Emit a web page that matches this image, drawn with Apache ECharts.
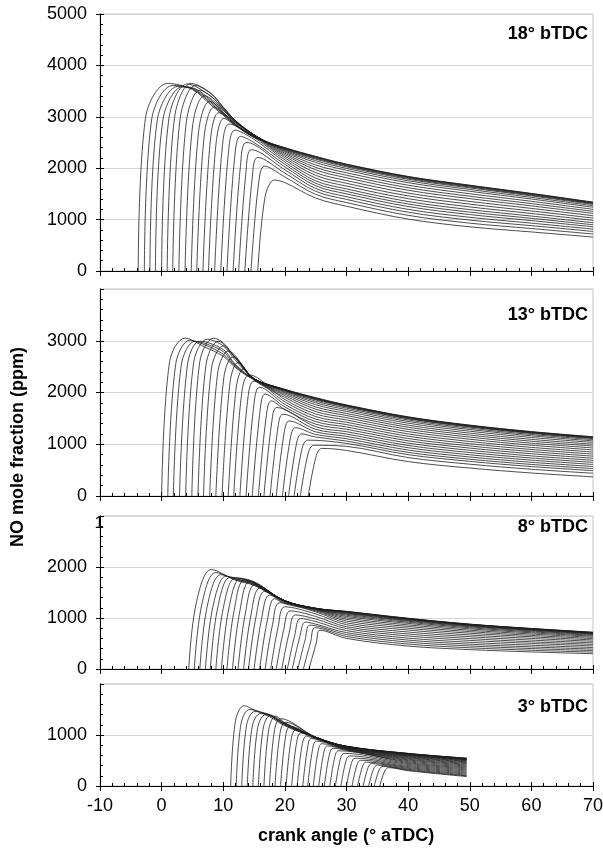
<!DOCTYPE html>
<html><head><meta charset="utf-8">
<script src="https://cdn.jsdelivr.net/npm/echarts@6/dist/echarts.min.js"></script>
<style>html,body{margin:0;padding:0;background:#fff}#c{width:603px;height:854px}</style>
</head><body><div id="c"></div><script>
// ---------- DATA ----------
const PANEL_LABELS = ['18° bTDC', '13° bTDC', '8° bTDC', '3° bTDC'];
const Y_MAX = [5000, 4000, 3000, 2000];
const X_MIN = -10, X_MAX = 70;

// Panel 1 (18° bTDC)
const P1_START = [-3.8,-2.8,-1.9,-1.0,0.0,0.9,1.8,2.8,3.8,4.8,5.7,6.7,7.6,8.6,9.6,10.6,11.6,12.5,13.5,14.5,15.6];
const P1_RISE = 1.2;
const P1_KNEE = [2990,2960,2940,2940,2980,2990,2960,2890,2800,2710,2620,2530,2440,2350,2250,2150,2050,1940,1810,1670,1450];
const P1_PEAK_X = [1.0,1.8,2.6,3.3,4.2,4.8,5.5,6.2,7.0,7.8,8.5,9.3,10.1,11.0,11.9,12.8,13.8,14.6,15.6,16.7,18.3];
const P1_PEAK = [3650,3610,3590,3580,3640,3650,3610,3520,3410,3300,3190,3080,2970,2860,2740,2620,2500,2360,2210,2040,1770];
const P1_TAIL_X = [5,8,10,12,15,20,25,30,40,50,60,70];
const P1_TAIL = [
 [3530,3230,3030,2830,2600,2400,2230,2080,1840,1670,1510,1340],
 [3545,3260,3050,2840,2605,2395,2224,2074,1834,1664,1505,1335],
 [3555,3290,3070,2850,2610,2390,2218,2068,1828,1658,1499,1330],
 [3565,3320,3090,2860,2615,2383,2207,2056,1816,1647,1488,1320],
 [null,3400,3140,2890,2630,2375,2194,2044,1803,1634,1477,1310],
 [null,3460,3180,2915,2640,2365,2177,2026,1785,1617,1461,1295],
 [null,3450,3190,2925,2645,2352,2147,1996,1755,1587,1433,1270],
 [null,3400,3170,2925,2648,2336,2111,1960,1718,1551,1400,1240],
 [null,null,3140,2920,2650,2316,2063,1911,1669,1503,1356,1200],
 [null,null,3120,2910,2650,2292,2015,1863,1620,1455,1311,1160],
 [null,null,3070,2900,2648,2265,1968,1814,1571,1408,1267,1120],
 [null,null,null,2880,2640,2234,1914,1760,1516,1354,1218,1075],
 [null,null,null,2830,2625,2200,1861,1706,1462,1301,1168,1030],
 [null,null,null,null,2600,2162,1807,1652,1407,1247,1119,985],
 [null,null,null,null,2560,2120,1754,1598,1352,1194,1069,940],
 [null,null,null,null,2500,2075,1706,1549,1303,1146,1025,900],
 [null,null,null,null,null,2025,1658,1501,1254,1098,981,860],
 [null,null,null,null,null,1970,1605,1447,1199,1045,931,815],
 [null,null,null,null,null,1905,1551,1393,1144,991,882,770],
 [null,null,null,null,null,1830,1491,1332,1083,931,826,720],
 [null,null,null,null,null,1720,1420,1260,1010,860,760,660]
];

// Panel 2 (13° bTDC)
const P2_START = [0.0,1.0,1.9,2.9,3.9,4.9,5.9,6.8,7.8,8.8,9.8,10.8,11.7,12.7,13.7,14.7,15.7,16.6,17.6,18.6,19.6,20.6,21.5,22.5,23.8];
const P2_RISE = 1.3;
const P2_KNEE = [2600,2560,2540,2540,2580,2600,2540,2470,2380,2290,2190,2090,1990,1890,1790,1670,1560,1450,1340,1230,1120,1020,920,830,780];
const P2_PEAK_X = [3.8,4.6,5.4,6.2,7.4,8.4,9.2,10.0,10.8,11.6,12.4,13.3,14.2,15.0,15.9,16.8,17.8,18.7,19.7,20.7,21.7,22.7,23.7,24.7,26.0];
const P2_PEAK = [3050,3010,2990,2990,3030,3050,2990,2900,2800,2690,2580,2460,2340,2220,2100,1970,1840,1710,1580,1450,1320,1200,1080,980,920];
const P2_TAIL_X = [7,10,12,15,20,25,30,40,50,60,70];
const P2_TAIL = [
 [2880,2700,2480,2250,2060,1900,1760,1530,1370,1245,1145],
 [2920,2740,2500,2255,2058,1894,1755,1525,1365,1240,1140],
 [2950,2790,2520,2260,2055,1888,1749,1519,1359,1235,1135],
 [null,2830,2540,2262,2050,1879,1741,1511,1352,1227,1128],
 [null,2900,2620,2265,2045,1869,1732,1502,1343,1219,1120],
 [null,2960,2665,2268,2040,1857,1720,1491,1333,1209,1110],
 [null,null,2670,2268,2030,1832,1698,1469,1311,1188,1090],
 [null,null,2660,2265,2015,1801,1669,1441,1285,1163,1065],
 [null,null,null,2262,1995,1764,1635,1407,1252,1131,1035],
 [null,null,null,2258,1970,1721,1595,1368,1215,1095,1000],
 [null,null,null,2250,1940,1678,1556,1329,1177,1059,965],
 [null,null,null,2235,1905,1632,1514,1288,1138,1021,928],
 [null,null,null,null,1865,1585,1470,1245,1097,982,890],
 [null,null,null,null,1820,1535,1425,1200,1054,940,850],
 [null,null,null,null,1770,1486,1380,1156,1011,899,810],
 [null,null,null,null,1720,1437,1334,1111,968,858,770],
 [null,null,null,null,1670,1388,1289,1067,926,817,730],
 [null,null,null,null,null,1338,1243,1022,883,775,690],
 [null,null,null,null,null,1288,1198,977,840,734,650],
 [null,null,null,null,null,1240,1153,933,797,693,610],
 [null,null,null,null,null,1190,1107,888,754,651,570],
 [null,null,null,null,null,1140,1061,843,711,610,530],
 [null,null,null,null,null,null,1016,799,669,569,490],
 [null,null,null,null,null,null,959,743,615,517,440],
 [null,null,null,null,null,null,880,665,540,445,370]
];

// Panel 3 (8° bTDC)
const P3_START = [4.4,5.3,6.2,7.1,7.9,8.8,9.7,10.6,11.5,12.4,13.3,14.1,15.0,15.9,16.8,17.7,18.6,19.5,20.4,21.2,22.1,23.0,23.9];
const P3_RISE = 1.2;
const P3_KNEE = [1280,1250,1230,1210,1200,1190,1180,1170,1140,1100,1060,1010,970,920,870,820,760,710,660,620,580,540,510];
const P3_PEAK_X = [8.1,8.8,9.6,10.4,11.2,12.0,12.8,13.6,14.4,15.2,16.0,16.7,17.5,18.3,19.2,20.0,20.9,21.7,22.5,23.3,24.1,24.9,25.7];
const P3_PEAK = [1950,1890,1850,1820,1800,1790,1780,1760,1720,1660,1590,1520,1450,1380,1300,1220,1140,1060,990,920,860,810,760];
const P3_TAIL_X = [12,15,20,25,30,40,50,60,70];
const P3_TAIL = [
 [1740,1640,1330,1190,1130,995,880,795,720],
 [1755,1650,1332,1190,1127,992,878,793,718],
 [1765,1660,1334,1189,1124,988,874,789,715],
 [1775,1670,1336,1189,1120,985,871,786,712],
 [null,1680,1338,1188,1115,979,866,782,708],
 [null,1690,1340,1188,1109,973,860,777,703],
 [null,1695,1340,1187,1100,964,852,769,696],
 [null,null,1338,1185,1088,952,841,759,687],
 [null,null,1335,1182,1073,937,827,746,675],
 [null,null,1330,1178,1054,917,809,729,660],
 [null,null,1322,1172,1031,894,787,709,642],
 [null,null,1315,1165,1004,865,761,686,620],
 [null,null,1300,1155,974,834,733,659,596],
 [null,null,1280,1140,941,800,702,631,570],
 [null,null,null,1120,905,764,668,600,542],
 [null,null,null,1080,868,725,633,567,512],
 [null,null,null,1030,829,686,597,534,482],
 [null,null,null,980,792,647,561,502,452],
 [null,null,null,930,752,606,523,467,420],
 [null,null,null,880,713,567,487,433,390],
 [null,null,null,null,676,528,452,401,360],
 [null,null,null,null,638,489,416,368,330],
 [null,null,null,null,600,450,380,335,300]
];

// Panel 4 (3° bTDC)
const P4_START = [11.2,12.1,13.0,13.9,14.8,15.7,16.6,17.5,18.4,19.3,20.2,21.1,22.0,22.9,23.7,24.6,25.5,26.4,27.3,28.2,29.1,30.0,30.9,31.8,32.7,33.6,34.5,35.4];
const P4_RISE = 0.8;
const P4_KNEE = [1290,1230,1200,1165,1150,1140,1120,1080,1025,960,900,850,805,760,720,680,645,605,565,525,485,445,415,385,360,335,315,295];
const P4_PEAK_X = [13.4,14.3,15.1,16.0,16.9,17.7,18.5,19.3,20.1,20.9,21.8,22.6,23.5,24.3,25.1,26.0,26.9,27.8,28.7,29.6,30.5,31.4,32.3,33.2,34.1,35.0,35.9,36.8];
const P4_PEAK = [1575,1500,1460,1420,1400,1390,1370,1320,1250,1170,1100,1040,980,930,880,830,785,740,690,640,590,545,505,470,440,410,385,360];
const P4_TAIL_X = [15,17.5,20,25,30,40,49.5];
const P4_TAIL = [
 [1490,1360,1180,950,780,640,545],
 [null,1380,1195,952,779,638,543],
 [null,1400,1205,954,777,635,540],
 [null,1395,1215,955,776,633,537],
 [null,null,1225,956,774,629,533],
 [null,null,1232,957,772,624,528],
 [null,null,1240,957,769,618,522],
 [null,null,null,956,766,612,515],
 [null,null,null,954,762,603,506],
 [null,null,null,950,757,594,496],
 [null,null,null,945,752,583,485],
 [null,null,null,935,746,571,472],
 [null,null,null,920,739,558,458],
 [null,null,null,null,732,544,443],
 [null,null,null,null,725,528,427],
 [null,null,null,null,717,513,410],
 [null,null,null,null,709,496,392],
 [null,null,null,null,700,477,373],
 [null,null,null,null,null,459,354],
 [null,null,null,null,null,441,334],
 [null,null,null,null,null,422,314],
 [null,null,null,null,null,402,293],
 [null,null,null,null,null,382,272],
 [null,null,null,null,null,363,252],
 [null,null,null,null,null,345,232],
 [null,null,null,null,null,327,213],
 [null,null,null,null,null,312,198],
 [null,null,null,null,null,300,185]
];

// ---------- BUILD ----------
const DATA = [
 {start:P1_START, rise:P1_RISE, knee:P1_KNEE, peakX:P1_PEAK_X, peak:P1_PEAK, tailX:P1_TAIL_X, tail:P1_TAIL},
 {start:P2_START, rise:P2_RISE, knee:P2_KNEE, peakX:P2_PEAK_X, peak:P2_PEAK, tailX:P2_TAIL_X, tail:P2_TAIL},
 {start:P3_START, rise:P3_RISE, knee:P3_KNEE, peakX:P3_PEAK_X, peak:P3_PEAK, tailX:P3_TAIL_X, tail:P3_TAIL},
 {start:P4_START, rise:P4_RISE, knee:P4_KNEE, peakX:P4_PEAK_X, peak:P4_PEAK, tailX:P4_TAIL_X, tail:P4_TAIL}
];
const LAYOUT = [
 {top:14, height:257},
 {top:289, height:207},
 {top:516, height:153},
 {top:684, height:102}
];
const FONT = "'Liberation Sans', Arial, Helvetica, sans-serif";

function curvePoints(d, i) {
  const pts = [[d.start[i], 0], [d.start[i] + d.rise, d.knee[i]], [d.peakX[i], d.peak[i]]];
  d.tailX.forEach((x, j) => { const v = d.tail[i][j]; if (v !== null && v !== undefined) pts.push([x, v]); });
  return pts;
}
const plain = v => String(v);

const grids = [], xAxes = [], yAxes = [], series = [];
LAYOUT.forEach((L, k) => {
  grids.push({left:100, right:10, top:L.top, height:L.height, show:true, borderColor:'#c4c4c4', borderWidth:1, backgroundColor:'transparent', containLabel:false, outerBoundsMode:'none'});
  const last = k === LAYOUT.length - 1;
  xAxes.push({type:'value', gridIndex:k, min:X_MIN, max:X_MAX, interval:10, position:'bottom',
    axisLine:{show:true, onZero:false, lineStyle:{color:'#000', width:1}},
    axisTick:{show:true, inside:false, length:5, lineStyle:{color:'#000', width:1}},
    minorTick:{show:false},
    axisLabel:{show:last, fontSize:18, color:'#000', margin:11, fontFamily:FONT, formatter:plain},
    splitLine:{show:false}});
  xAxes.push({type:'value', gridIndex:k, min:X_MIN, max:X_MAX, interval:10, position:'bottom',
    axisLine:{show:false, onZero:false},
    axisTick:{show:true, inside:true, length:4, lineStyle:{color:'#000', width:1}},
    minorTick:{show:true, splitNumber:5, length:3, lineStyle:{color:'#000', width:1}},
    axisLabel:{show:false}, splitLine:{show:false}});
  yAxes.push({type:'value', gridIndex:k, min:0, max:Y_MAX[k], interval:1000, position:'left',
    axisLine:{show:true, onZero:false, lineStyle:{color:'#000', width:1}},
    axisTick:{show:true, inside:false, length:4, lineStyle:{color:'#000', width:1}},
    minorTick:{show:false},
    axisLabel:{show:true, fontSize:18, color:'#000', margin:13, fontFamily:FONT, showMaxLabel:k === 0, showMinLabel:true, formatter:plain},
    splitLine:{show:true, lineStyle:{color:'#d6d6d6', width:1}}});
  yAxes.push({type:'value', gridIndex:k, min:0, max:Y_MAX[k], interval:1000, position:'left',
    axisLine:{show:false, onZero:false},
    axisTick:{show:true, inside:true, length:4, lineStyle:{color:'#000', width:1}},
    minorTick:{show:true, splitNumber:5, length:3, lineStyle:{color:'#000', width:1}},
    axisLabel:{show:false}, splitLine:{show:false}});
  const d = DATA[k];
  d.start.forEach((s, i) => {
    series.push({type:'line', xAxisIndex:2*k, yAxisIndex:2*k, data:curvePoints(d, i),
      showSymbol:false, symbol:'none', smooth:0.35, silent:true, animation:false,
      lineStyle:{color:'#1e1e1e', width:0.8}});
  });
});

const labelY = [34, 315, 527, 707];
const graphics = PANEL_LABELS.map((t, k) => ({type:'text', x:588, y:labelY[k], silent:true,
  style:{text:t, font:"bold 18px " + FONT, fill:'#000', align:'right', verticalAlign:'middle', textAlign:'right', textVerticalAlign:'middle'}}));
graphics.push({type:'text', x:18, y:447, rotation:Math.PI/2, silent:true,
  style:{text:'NO mole fraction (ppm)', font:"bold 18px " + FONT, fill:'#000', align:'center', verticalAlign:'middle', textAlign:'center', textVerticalAlign:'middle'}});
graphics.push({type:'text', x:346, y:836, silent:true,
  style:{text:'crank angle (° aTDC)', font:"bold 18px " + FONT, fill:'#000', align:'center', verticalAlign:'middle', textAlign:'center', textVerticalAlign:'middle'}});
graphics.push({type:'text', x:104, y:523, silent:true,
  style:{text:'1', font:"17px " + FONT, fill:'#000', align:'right', verticalAlign:'middle', textAlign:'right', textVerticalAlign:'middle'}});

const chart = echarts.init(document.getElementById('c'), null, {renderer:'canvas'});
chart.setOption({animation:false, backgroundColor:'#fff', grid:grids, xAxis:xAxes, yAxis:yAxes, series:series, graphic:graphics});
</script></body></html>
